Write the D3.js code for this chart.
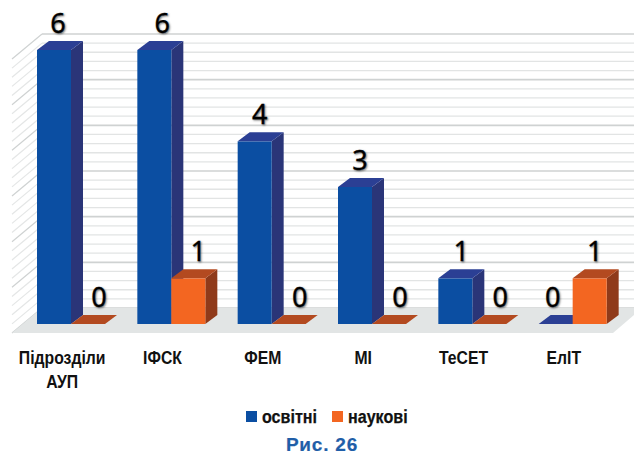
<!DOCTYPE html>
<html><head><meta charset="utf-8">
<script src="https://cdn.jsdelivr.net/npm/d3@7"></script>
<style>html,body{margin:0;background:#fff;overflow:hidden}svg{display:block}
text{font-family:"Liberation Sans",sans-serif}
.val{font-family:"Noto Sans",sans-serif;font-size:27px;fill:#000;stroke:#000;stroke-width:.3;text-shadow:1px 1px 2px rgba(0,0,0,.5)}
.cat{font-weight:700;font-size:17.5px;fill:#111;text-anchor:middle}
.leg{font-weight:700;font-size:18.5px;fill:#111;stroke:#111;stroke-width:.25}
.cap{font-weight:700;font-size:19px;letter-spacing:.8px;fill:#1f5ea8;stroke:#1f5ea8;stroke-width:.2;text-anchor:middle}
</style></head><body><script>
const categories=[["Підрозділи","АУП"],["ІФСК"],["ФЕМ"],["МІ"],["ТеСЕТ"],["ЕлІТ"]];
const seriesNames=["освітні","наукові"];
const osvitni=[6,6,4,3,1,0];
const naukovi=[0,1,0,0,0,1];
const yTicks=d3.range(0,6.01,0.2);
const caption="Рис. 26";

const W=634,H=455;
const svg=d3.select("body").append("svg").attr("width",W).attr("height",H);
const ids=categories.map(c=>c.join(" "));
const x0=d3.scaleBand().domain(ids).range([37,639]);
const x1=d3.scaleBand().domain(seriesNames).range([0,68]);
const y=d3.scaleLinear().domain([0,6]).range([324,50]);
const dx=12,dy=9;
const wallX=42,wallOffset=16,leftX=12;
const wallY=v=>y(v)-wallOffset;
const frontSlopeY=v=>wallY(v)+25;
// Condense a text horizontally, as the original's narrow bold face is
const condense=(sel,f)=>{const n=sel.node();sel.attr("textLength",n.getComputedTextLength()*f).attr("lengthAdjust","spacingAndGlyphs");};

const g=svg.append("g");
yTicks.forEach((t,i)=>{
  const major=i%5===0;
  g.append("line").attr("x1",wallX).attr("x2",W).attr("y1",wallY(t)).attr("y2",wallY(t))
    .attr("stroke",major?"#cfd2d2":"#e2e4e4").attr("stroke-width",major?1.6:1.3);
  g.append("line").attr("x1",leftX).attr("x2",wallX).attr("y1",frontSlopeY(t)).attr("y2",wallY(t))
    .attr("stroke",major?"#cfd2d2":"#e4e6e6").attr("stroke-width",1.2);
});
const floorBack=wallY(0),floorFront=frontSlopeY(0);
g.append("path").attr("fill","#e2e5e5")
  .attr("d",d3.line()([[leftX,floorFront],[wallX,floorBack],[W,floorBack],[W,floorFront-18],[613,floorFront]])+"Z");

const colors={"освітні":{f:"#0b4ea2",s:"#2a3578",t:"#2b3f94"},"наукові":{f:"#f36621",s:"#8f3a1a",t:"#b34a20"}};
const values={"освітні":osvitni,"наукові":naukovi};
const line=d3.line();
const marks=svg.append("g");
ids.forEach((id,i)=>{
  seriesNames.forEach(s=>{
    const v=values[s][i],c=colors[s];
    const l=x0(id)+x1(s),r=l+x1.bandwidth(),b=y(0),t=y(v);
    const m=marks.append("g");
    if(v>0){
      m.append("path").attr("fill",c.s).attr("d",line([[r,t],[r+dx,t-dy],[r+dx,b-dy],[r,b]])+"Z");
      m.append("rect").attr("x",l).attr("y",t).attr("width",r-l).attr("height",b-t).attr("fill",c.f);
    }
    m.append("path").attr("fill",c.t).attr("d",line([[l,t],[l+dx,t-dy],[r+dx,t-dy],[r,t]])+"Z");
  });
});
const nudge=(s,i,v)=>{
  if(s==="освітні") return v===0?-3:[4,8,5,5,6][i];
  return v===0?11:(i===1?10:5);
};
ids.forEach((id,i)=>{
  seriesNames.forEach(s=>{
    const v=values[s][i];
    svg.append("text").attr("class","val").attr("text-anchor","middle")
      .attr("x",x0(id)+x1(s)+x1.bandwidth()/2+nudge(s,i,v))
      .attr("y",y(v)-dy-8.5).text(v);
  });
});
ids.forEach((id,i)=>{
  const cx=x0(id)+x0.bandwidth()/2-25;
  categories[i].forEach((t,j)=>{
    const el=svg.append("text").attr("class","cat").attr("x",cx).attr("y",364+j*24).text(t);
    condense(el,0.9);
  });
});
const legX=[246,332];
seriesNames.forEach((s,i)=>{
  svg.append("rect").attr("x",legX[i]).attr("y",411).attr("width",11).attr("height",11).attr("fill",colors[s].f);
  const el=svg.append("text").attr("class","leg").attr("x",legX[i]+16).attr("y",423).text(s);
  condense(el,0.87);
});
svg.append("text").attr("class","cap").attr("x",322).attr("y",451).text(caption);
</script></body></html>
